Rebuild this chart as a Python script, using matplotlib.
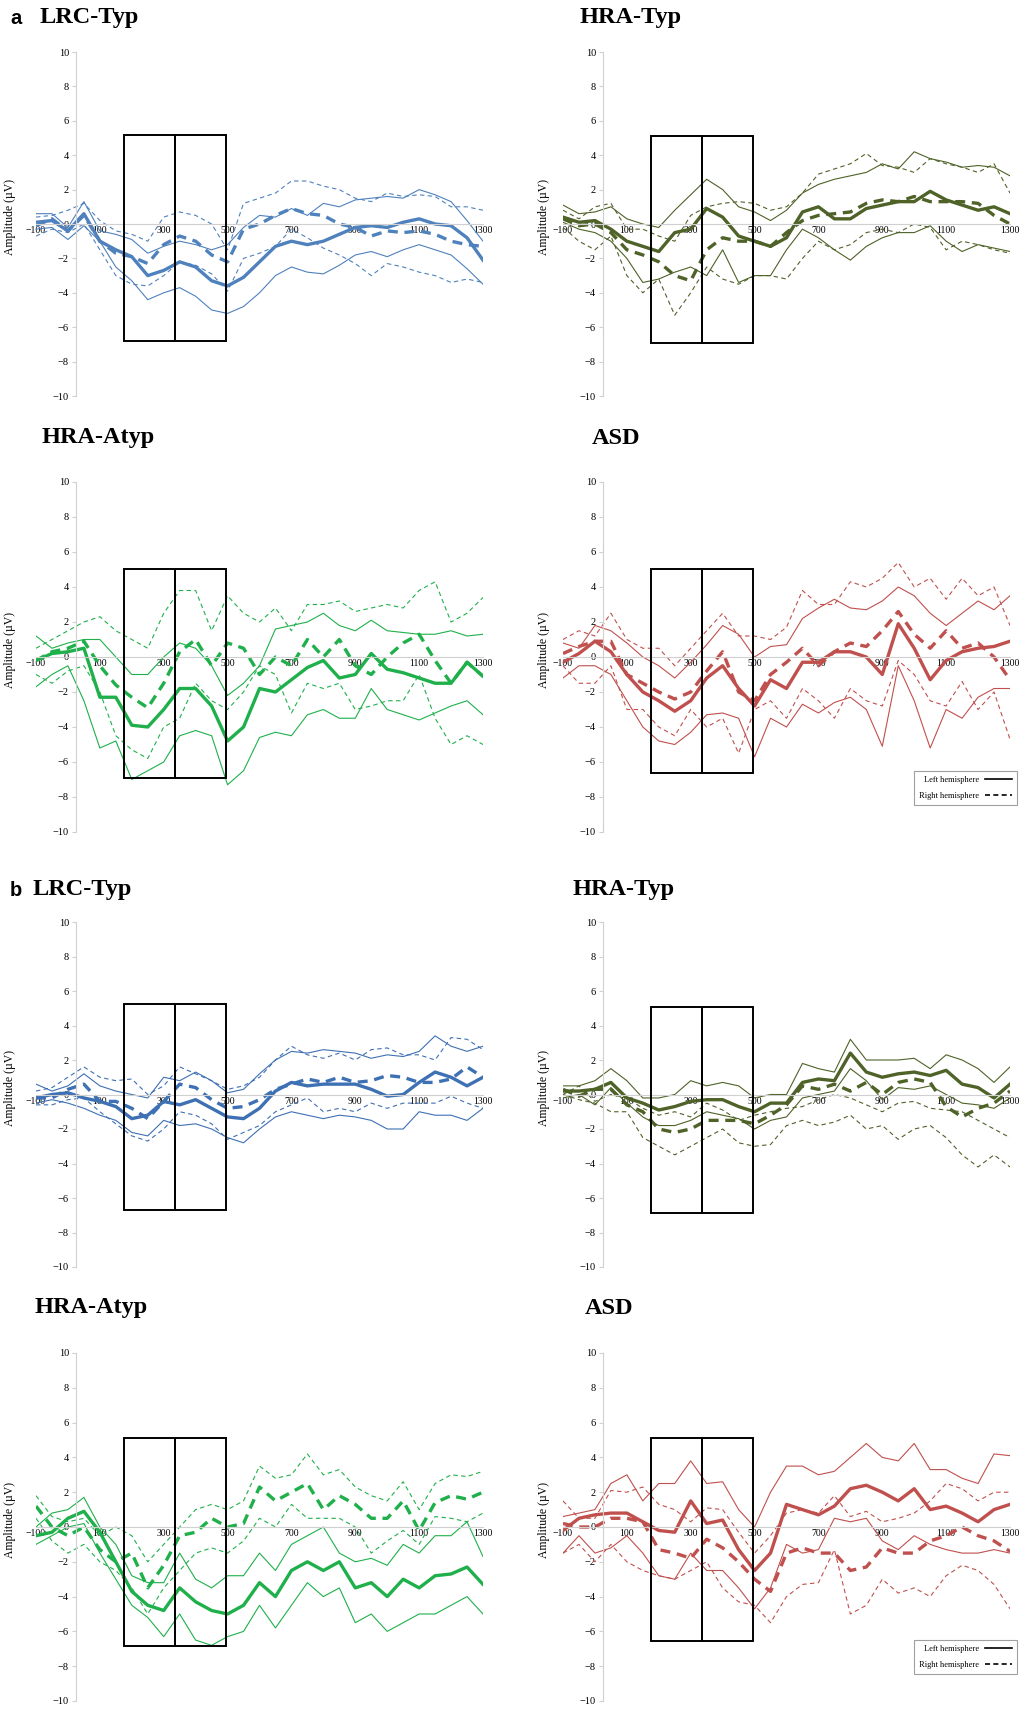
import numpy as np
import matplotlib.pyplot as plt
from matplotlib.patches import Rectangle
from matplotlib.lines import Line2D

plt.rcParams['font.family'] = ['Liberation Serif', 'DejaVu Serif']

# time axis (ms), values read every 50 ms
ms = np.arange(-100, 1301, 50)

# --- a: LRC-Typ ---
a_lrc_left = [0.1, 0.2, -0.4, 0.6, -1.0, -1.5, -1.9, -3.0, -2.7, -2.2, -2.5, -3.3, -3.6, -3.1, -2.2,
              -1.3, -1.0, -1.2, -1.0, -0.6, -0.2, -0.1, -0.2, 0.1, 0.3, 0.0, -0.1, -0.8, -2.1]
a_lrc_left_hi = [0.6, 0.6, -0.2, 1.3, -0.4, -0.6, -0.9, -1.7, -1.3, -1.0, -1.2, -1.5, -1.2, -0.2, 0.5,
                 0.4, 0.9, 0.5, 1.2, 1.0, 1.4, 1.5, 1.6, 1.5, 2.0, 1.7, 1.3, 0.2, -1.0]
a_lrc_left_lo = [-0.3, -0.2, -0.9, -0.1, -1.0, -2.5, -3.3, -4.4, -4.0, -3.7, -4.2, -5.0, -5.2, -4.8, -4.0,
                 -3.0, -2.5, -2.8, -2.9, -2.4, -1.8, -1.6, -1.9, -1.5, -1.2, -1.5, -1.8, -2.6, -3.5]
a_lrc_right = [-0.1, 0.3, -0.4, 0.5, -1.0, -1.7, -1.9, -2.3, -1.2, -0.7, -1.0, -1.8, -2.2, -0.3, 0.0,
               0.5, 0.9, 0.6, 0.5, 0.0, -0.2, -0.7, -0.4, -0.5, -0.4, -0.6, -1.0, -1.2, -1.3]
a_lrc_right_hi = [0.4, 0.5, 0.8, 1.2, 0.2, -0.4, -0.6, -1.0, 0.4, 0.7, 0.5, 0.0, -1.5, 1.2, 1.5,
                  1.8, 2.5, 2.5, 2.2, 2.0, 1.5, 1.3, 1.8, 1.6, 1.7, 1.6, 1.0, 1.0, 0.8]
a_lrc_right_lo = [-0.7, -0.3, -0.5, 0.0, -1.5, -3.0, -3.5, -3.6, -3.0, -2.2, -2.4, -2.9, -3.9, -2.0, -1.7,
                  -1.3, -0.3, -0.8, -1.4, -1.8, -2.3, -3.0, -2.3, -2.5, -2.8, -3.0, -3.4, -3.2, -3.4]

# --- a: HRA-Typ ---
a_hrt_left = [0.4, 0.1, 0.2, -0.3, -1.0, -1.3, -1.6, -0.5, -0.3, 0.9, 0.4, -0.7, -1.0, -1.3, -0.8,
              0.7, 1.0, 0.3, 0.3, 0.9, 1.1, 1.3, 1.3, 1.9, 1.4, 1.1, 0.8, 1.0, 0.6]
a_hrt_left_hi = [1.1, 0.6, 0.7, 1.0, 0.3, 0.0, -0.2, 0.8, 1.7, 2.6, 2.0, 1.0, 0.7, 0.2, 0.8,
                 1.8, 2.3, 2.6, 2.8, 3.0, 3.5, 3.2, 4.2, 3.8, 3.6, 3.3, 3.4, 3.3, 2.8]
a_hrt_left_lo = [0.1, -0.3, -0.5, -1.0, -2.0, -3.4, -3.2, -2.8, -2.5, -3.0, -1.5, -3.4, -3.0, -3.0, -1.5,
                 -0.3, -0.8, -1.5, -2.1, -1.3, -0.8, -0.5, -0.5, -0.1, -1.0, -1.6, -1.2, -1.4, -1.6]
a_hrt_right = [0.3, -0.1, 0.0, -0.5, -1.5, -1.8, -2.2, -3.0, -3.3, -1.5, -0.8, -1.0, -1.0, -1.3, -0.5,
               0.2, 0.5, 0.6, 0.7, 1.2, 1.4, 1.3, 1.6, 1.3, 1.3, 1.3, 1.2, 0.5, 0.0]
a_hrt_right_hi = [0.8, 0.3, 1.0, 1.2, -0.3, -0.3, -0.7, -1.0, 0.5, 1.0, 1.2, 1.3, 1.2, 0.8, 1.0,
                  1.8, 2.9, 3.2, 3.5, 4.1, 3.4, 3.3, 3.0, 3.8, 3.5, 3.3, 3.0, 3.5, 1.8]
a_hrt_right_lo = [-0.2, -1.0, -1.5, -0.7, -3.0, -4.0, -3.2, -5.3, -4.0, -2.5, -3.2, -3.5, -3.0, -3.0, -3.2,
                  -2.0, -1.0, -1.5, -1.2, -0.5, -0.3, -0.5, 0.0, -0.2, -1.5, -1.0, -1.2, -1.5, -1.7]

# --- a: HRA-Atyp ---
a_hra_left = [-0.2, 0.2, 0.3, 0.5, -2.3, -2.3, -3.9, -4.0, -3.0, -1.8, -1.8, -2.8, -4.8, -4.0, -1.8,
              -2.0, -1.3, -0.6, -0.2, -1.2, -1.0, 0.2, -0.7, -0.9, -1.2, -1.5, -1.5, -0.3, -1.1]
a_hra_left_hi = [1.2, 0.5, 0.8, 1.0, 1.0, 0.0, -1.0, -1.0, 0.0, 0.8, 0.5, -0.5, -2.2, -1.5, -0.5,
                 1.6, 1.8, 2.0, 2.5, 1.8, 1.5, 2.1, 1.5, 1.4, 1.3, 1.3, 1.5, 1.2, 1.3]
a_hra_left_lo = [-1.7, -1.0, -0.5, -2.5, -5.2, -4.8, -7.0, -6.5, -6.0, -4.5, -4.2, -4.5, -7.3, -6.5, -4.6,
                 -4.3, -4.5, -3.3, -3.0, -3.5, -3.5, -1.8, -3.0, -3.3, -3.6, -3.2, -2.8, -2.5, -3.3]
a_hra_right = [-0.2, 0.3, 0.5, 0.9, -0.5, -1.6, -2.3, -2.9, -1.5, 0.3, 1.0, -0.5, 0.8, 0.5, -1.0,
               0.0, -0.5, 1.0, 0.0, 1.0, -0.5, -1.0, 0.0, 0.8, 1.3, -0.2, -1.5, -0.3, -1.1]
a_hra_right_hi = [0.5, 1.0, 1.5, 2.0, 2.3, 1.5, 1.0, 0.5, 2.5, 3.8, 3.8, 1.5, 3.5, 2.5, 2.0,
                  2.8, 1.5, 3.0, 3.0, 3.2, 2.6, 2.8, 3.0, 2.8, 3.8, 4.3, 2.0, 2.5, 3.4]
a_hra_right_lo = [-1.0, -1.5, -0.8, -0.5, -2.0, -4.5, -5.3, -5.8, -4.0, -3.5, -1.5, -2.5, -3.0, -2.0, -0.5,
                  -1.0, -3.2, -1.5, -1.8, -1.5, -3.0, -2.8, -2.5, -2.5, -1.0, -3.5, -5.0, -4.5, -5.0]

# --- a: ASD ---
a_asd_left = [-0.3, 0.2, 0.9, 0.3, -1.0, -2.0, -2.5, -3.1, -2.5, -1.2, -0.5, -1.8, -2.8, -1.3, -1.8,
              -0.3, -0.3, 0.3, 0.3, 0.0, -1.0, 1.9, 0.5, -1.3, -0.2, 0.3, 0.5, 0.6, 0.9]
a_asd_left_hi = [0.8, 0.5, 1.8, 1.5, 0.8, 0.0, -0.5, -1.2, -0.3, 0.7, 1.8, 1.3, 0.0, 0.6, 0.7,
                 2.2, 2.8, 3.3, 2.8, 2.7, 3.2, 4.0, 3.5, 2.5, 1.8, 2.5, 3.2, 2.7, 3.5]
a_asd_left_lo = [-1.2, -0.5, -0.5, -1.0, -2.5, -4.0, -4.8, -5.0, -4.3, -3.3, -3.2, -3.5, -5.7, -3.5, -4.0,
                 -2.7, -3.2, -2.6, -2.3, -3.0, -5.1, -0.5, -2.5, -5.2, -3.0, -3.5, -2.3, -1.8, -1.8]
a_asd_right = [0.2, 0.6, 0.9, 0.9, -1.0, -1.5, -2.0, -2.4, -2.0, -0.8, 0.3, -2.0, -2.5, -1.0, -0.3,
               0.5, -0.5, 0.3, 0.8, 0.6, 1.5, 2.6, 1.3, 0.5, 1.5, 0.5, 0.8, 0.0, -1.3]
a_asd_right_hi = [1.0, 1.5, 1.2, 2.5, 1.0, 0.5, 0.5, -0.5, 0.5, 1.5, 2.5, 1.2, 1.2, 1.0, 1.7,
                  3.8, 3.0, 3.0, 4.3, 4.0, 4.5, 5.4, 4.0, 4.5, 3.3, 4.5, 3.5, 4.0, 1.8]
a_asd_right_lo = [-0.5, -1.5, -1.5, -0.5, -3.0, -3.0, -4.0, -4.5, -3.0, -4.0, -3.5, -5.5, -3.0, -2.5, -3.5,
                  -1.8, -2.5, -3.5, -1.8, -2.5, -2.8, -0.2, -1.0, -2.5, -2.8, -1.4, -3.0, -2.0, -4.7]

# --- b: LRC-Typ ---
b_lrc_left = [-0.2, 0.0, 0.1, -0.2, -0.4, -0.7, -1.4, -1.2, -0.4, -0.6, -0.3, -0.8, -1.3, -1.4, -0.8,
              0.2, 0.7, 0.5, 0.6, 0.6, 0.6, 0.3, -0.1, 0.0, 0.7, 1.3, 1.0, 0.5, 1.0]
b_lrc_left_hi = [0.6, 0.2, 0.5, 1.2, 0.5, 0.2, 0.0, -0.2, 1.0, 0.8, 1.3, 0.8, 0.1, 0.3, 1.2,
                 2.0, 2.5, 2.4, 2.6, 2.5, 2.4, 2.1, 2.3, 2.2, 2.5, 3.4, 2.8, 2.5, 2.8]
b_lrc_left_lo = [-0.5, -0.3, -0.5, -0.8, -1.2, -1.5, -2.2, -2.4, -1.5, -1.8, -1.7, -2.0, -2.5, -2.8, -2.0,
                 -1.3, -1.0, -1.2, -1.4, -1.2, -1.3, -1.5, -2.0, -2.0, -1.0, -1.2, -1.2, -1.5, -0.8]
b_lrc_right = [-0.2, -0.2, 0.3, 0.6, -0.4, -0.4, -0.8, -1.4, -0.4, 0.6, 0.4, -0.3, -0.8, -0.7, -0.3,
               0.3, 0.6, 0.9, 0.7, 1.0, 0.7, 0.8, 1.1, 1.0, 0.7, 0.7, 0.9, 1.6, 1.0]
b_lrc_right_hi = [0.2, 0.4, 1.0, 1.6, 1.0, 0.8, 0.9, 0.0, 0.5, 1.6, 1.2, 0.8, 0.3, 0.5, 1.0,
                  2.0, 2.8, 2.3, 2.1, 2.4, 2.0, 2.6, 2.7, 2.3, 2.3, 2.0, 3.3, 3.2, 2.6]
b_lrc_right_lo = [-0.6, -0.6, -0.3, -0.2, -1.0, -1.7, -2.4, -2.7, -2.0, -1.0, -1.2, -1.7, -2.6, -2.2, -1.8,
                  -1.0, -0.6, -0.2, -1.0, -0.8, -1.0, -0.5, -0.8, -0.5, -0.5, -0.5, -0.1, -0.5, -0.8]

# --- b: HRA-Typ ---
b_hrt_left = [0.2, 0.2, 0.3, 0.7, -0.2, -0.5, -0.9, -0.7, -0.4, -0.3, -0.3, -0.7, -1.0, -0.5, -0.5,
              0.7, 0.9, 0.8, 2.4, 1.3, 1.0, 1.2, 1.3, 1.1, 1.4, 0.6, 0.4, -0.2, 0.6]
b_hrt_left_hi = [0.5, 0.5, 0.8, 1.5, 0.8, -0.2, -0.2, 0.0, 0.8, 0.5, 0.7, 0.5, -0.2, 0.0, 0.0,
                 1.8, 1.5, 1.3, 3.2, 2.0, 2.0, 2.0, 2.1, 1.5, 2.3, 2.0, 1.5, 0.7, 1.6]
b_hrt_left_lo = [-0.2, 0.0, -0.6, 0.4, -0.5, -1.3, -1.8, -1.8, -1.5, -1.0, -1.2, -1.4, -2.0, -1.5, -1.3,
                 -0.2, 0.0, 0.2, 1.5, 0.8, -0.3, 0.4, 0.3, 0.5, 0.0, -0.5, -0.6, -0.8, -0.2]
b_hrt_right = [0.3, -0.1, 0.3, 0.3, -0.6, -1.0, -2.0, -2.2, -2.0, -1.5, -1.5, -1.5, -1.7, -1.2, -0.6,
               0.5, 0.3, 0.6, 0.2, 0.7, 0.0, 0.7, 0.9, 0.7, -0.7, -1.3, -0.8, -0.5, 0.2]
b_hrt_right_hi = [0.0, 0.5, -0.4, 0.0, -0.2, -0.8, -1.2, -1.0, -1.3, -0.5, -0.9, -1.5, -1.2, -1.0, -0.8,
                  -0.7, -0.3, 0.0, -0.2, -0.6, -1.0, -0.5, -0.4, -0.8, -0.9, -1.0, -1.5, -2.0, -2.5]
b_hrt_right_lo = [0.0, -0.3, -0.5, -1.0, -1.0, -2.5, -3.0, -3.5, -3.0, -2.5, -2.0, -2.8, -3.0, -2.9, -1.8,
                  -1.5, -1.8, -1.6, -1.2, -2.0, -1.8, -2.6, -2.0, -1.8, -2.5, -3.5, -4.2, -3.5, -4.2]

# --- b: HRA-Atyp ---
b_hra_left = [-0.5, -0.3, 0.5, 0.9, -0.3, -2.0, -3.7, -4.5, -4.8, -3.5, -4.3, -4.8, -5.0, -4.5, -3.2,
              -4.0, -2.5, -2.0, -2.5, -2.0, -3.5, -3.2, -4.0, -3.0, -3.5, -2.8, -2.7, -2.3, -3.3]
b_hra_left_hi = [0.0, 0.8, 1.0, 1.7, 0.0, -1.0, -2.8, -3.2, -3.2, -1.5, -3.0, -3.5, -2.8, -2.8, -1.5,
                 -2.5, -1.0, -0.5, 0.0, -1.5, -2.0, -1.8, -2.2, -1.0, -1.5, -0.5, -0.5, 0.3, -1.7]
b_hra_left_lo = [-1.0, -0.5, 0.0, 0.2, -1.5, -3.0, -4.5, -5.2, -6.3, -5.0, -6.5, -6.8, -6.3, -6.0, -4.5,
                 -5.8, -4.5, -3.2, -4.0, -3.5, -5.5, -5.0, -6.0, -5.5, -5.0, -5.0, -4.5, -4.0, -5.0]
b_hra_right = [1.2, 0.0, -0.5, 0.0, -1.3, -2.0, -1.5, -3.5, -2.2, -0.5, -0.3, 0.5, 0.0, 0.2, 2.3,
               1.5, 2.0, 2.5, 1.0, 1.8, 1.3, 0.5, 0.5, 1.5, -0.2, 1.4, 1.8, 1.6, 2.0]
b_hra_right_hi = [1.8, 0.6, 0.3, 0.5, -0.5, 0.0, -0.5, -2.0, -1.0, 0.0, 1.0, 1.3, 1.0, 1.5, 3.5,
                  2.8, 3.0, 4.2, 3.0, 3.3, 2.3, 1.8, 1.5, 2.6, 1.0, 2.5, 3.0, 2.9, 3.2]
b_hra_right_lo = [0.5, -0.8, -1.5, -1.0, -2.0, -2.5, -3.5, -5.0, -3.5, -2.5, -1.5, -1.2, -1.5, -0.8, 0.5,
                  0.0, 1.3, 0.5, 0.5, 0.5, 0.0, -1.5, -0.8, -0.2, -1.0, 0.6, 0.5, 0.3, 0.8]

# --- b: ASD ---
b_asd_left = [-0.2, 0.5, 0.7, 0.8, 0.8, 0.3, -0.2, -0.3, 1.5, 0.2, 0.4, -1.3, -2.5, -1.5, 1.3,
              1.0, 0.7, 1.2, 2.2, 2.4, 2.0, 1.5, 2.2, 1.0, 1.2, 0.8, 0.3, 1.0, 1.3]
b_asd_left_hi = [0.6, 0.8, 1.0, 2.5, 3.0, 1.5, 2.5, 2.5, 3.8, 2.5, 2.6, 1.0, 0.0, 2.0, 3.5,
                 3.5, 3.0, 3.2, 4.0, 4.8, 4.0, 3.8, 4.8, 3.3, 3.3, 2.8, 2.5, 4.2, 4.1]
b_asd_left_lo = [-1.5, -0.5, -1.5, -1.2, -0.5, -1.5, -2.8, -3.0, -1.5, -2.5, -2.5, -3.5, -4.7, -3.5, -1.0,
                 -1.5, -1.3, 0.5, 0.3, 0.5, -0.8, -1.3, -0.5, -1.0, -1.3, -1.5, -1.5, -1.3, -1.5]
b_asd_right = [0.2, 0.0, 0.0, 0.5, 0.5, 0.3, -1.3, -1.5, -1.8, -0.7, -1.2, -2.0, -3.0, -3.7, -1.5,
               -1.2, -1.5, -1.5, -2.5, -2.3, -1.2, -1.5, -1.5, -0.8, -0.5, 0.0, -0.5, -0.8, -1.4]
b_asd_right_hi = [1.5, 0.5, 0.5, 2.1, 2.0, 2.3, 1.3, 1.0, 0.3, 1.1, 1.0, -0.3, -1.5, -0.5, 0.8,
                  1.0, 0.8, 1.8, 0.6, 0.9, 0.3, 0.5, 0.8, 1.5, 2.5, 2.2, 1.5, 2.0, 2.0]
b_asd_right_lo = [-1.5, -1.0, -2.0, -1.0, -2.0, -2.5, -2.8, -3.0, -2.5, -2.0, -3.5, -4.3, -4.5, -5.5, -4.0,
                  -3.3, -3.2, -1.3, -5.0, -4.5, -3.0, -3.8, -3.5, -4.0, -2.8, -2.2, -2.5, -3.3, -4.7]

titles = ['LRC-Typ', 'HRA-Typ', 'HRA-Atyp', 'ASD'] * 2
colors = ['#4F81BD', '#4F6228', '#1FB04B', '#C0504D',
          '#3E70B4', '#4F6228', '#1FB04B', '#C0504D']
series = [
    (a_lrc_left, a_lrc_left_hi, a_lrc_left_lo, a_lrc_right, a_lrc_right_hi, a_lrc_right_lo),
    (a_hrt_left, a_hrt_left_hi, a_hrt_left_lo, a_hrt_right, a_hrt_right_hi, a_hrt_right_lo),
    (a_hra_left, a_hra_left_hi, a_hra_left_lo, a_hra_right, a_hra_right_hi, a_hra_right_lo),
    (a_asd_left, a_asd_left_hi, a_asd_left_lo, a_asd_right, a_asd_right_hi, a_asd_right_lo),
    (b_lrc_left, b_lrc_left_hi, b_lrc_left_lo, b_lrc_right, b_lrc_right_hi, b_lrc_right_lo),
    (b_hrt_left, b_hrt_left_hi, b_hrt_left_lo, b_hrt_right, b_hrt_right_hi, b_hrt_right_lo),
    (b_hra_left, b_hra_left_hi, b_hra_left_lo, b_hra_right, b_hra_right_hi, b_hra_right_lo),
    (b_asd_left, b_asd_left_hi, b_asd_left_lo, b_asd_right, b_asd_right_hi, b_asd_right_lo),
]
# analysis windows (ms) and box heights (µV) per panel
win_edges = [175, 335, 495]
box_tops = [5.2, 5.1, 5.05, 5.05, 5.25, 5.1, 5.1, 5.1]
box_bots = [-6.8, -6.9, -6.9, -6.65, -6.7, -6.85, -6.85, -6.55]

W, H = 1024, 1711
fig = plt.figure(figsize=(W / 100, H / 100), dpi=100)

cols = [(36, 483), (563, 1010)]
rows = [(52, 396), (482, 832), (922, 1267), (1353, 1701)]
title_pos = [(40, 18), (580, 18), (42, 438), (592, 438),
             (33, 889), (573, 889), (35, 1308), (585, 1308)]

for i in range(8):
    r, c = divmod(i, 2)
    x0, x1 = cols[c]
    y0, y1 = rows[r]
    ax = fig.add_axes([x0 / W, 1 - y1 / H, (x1 - x0) / W, (y1 - y0) / H])
    col = colors[i]
    lf, lfh, lfl, rt, rth, rtl = series[i]

    # confidence bounds (thin) then the means (thick)
    ax.plot(ms, lfh, color=col, lw=0.8)
    ax.plot(ms, lfl, color=col, lw=0.8)
    ax.plot(ms, rth, color=col, lw=0.8, ls=(0, (4, 3)))
    ax.plot(ms, rtl, color=col, lw=0.8, ls=(0, (4, 3)))
    ax.plot(ms, lf, color=col, lw=2.4)
    ax.plot(ms, rt, color=col, lw=2.4, ls=(0, (3, 2)))

    for a, b in zip(win_edges[:-1], win_edges[1:]):
        ax.add_patch(Rectangle((a, box_bots[i]), b - a, box_tops[i] - box_bots[i],
                               fill=False, ec='black', lw=1.4, zorder=5))

    ax.set_xlim(-100, 1300)
    ax.set_ylim(-10, 10)
    ax.set_xticks(np.arange(-100, 1301, 200))
    ax.set_yticks(np.arange(-10, 11, 2))
    for s in ['top', 'right']:
        ax.spines[s].set_visible(False)
    ax.spines['bottom'].set_position(('data', 0))
    ax.spines['left'].set_position(('data', 25))
    ax.spines['bottom'].set_color('#D0D0D0')
    ax.spines['left'].set_color('#D0D0D0')
    ax.tick_params(axis='x', length=0, pad=1.5, labelsize=7)
    ax.tick_params(axis='y', length=3, color='#D0D0D0', labelsize=7.5, pad=2)
    ax.set_facecolor('none')
    ax.set_ylabel('Amplitude (µV)', fontsize=8.5)
    ax.yaxis.set_label_coords(-0.045 if c == 0 else -0.03, 0.52)

    tx, ty = title_pos[i]
    fig.text(tx / W, 1 - ty / H, titles[i], fontsize=17.5, fontweight='bold', va='center')

    if titles[i] == 'ASD':
        handles = [Line2D([], [], color='black', lw=1.2),
                   Line2D([], [], color='black', lw=1.2, ls=(0, (3, 2)))]
        leg = ax.legend(handles, ['Left hemisphere', 'Right hemisphere'],
                        loc='lower right', bbox_to_anchor=(1.025, 0.066),
                        fontsize=6, markerfirst=False, handlelength=3.2,
                        frameon=True, fancybox=False, borderpad=0.6,
                        labelspacing=0.9)
        leg.get_frame().set_edgecolor('#888888')
        leg.get_frame().set_linewidth(0.8)

fig.text(10 / W, 1 - 19 / H, 'a', fontsize=14.5, fontweight='bold',
         family='Liberation Sans', va='center')
fig.text(10 / W, 1 - 890 / H, 'b', fontsize=14.5, fontweight='bold',
         family='Liberation Sans', va='center')

fig.savefig('out.png', dpi=100)
